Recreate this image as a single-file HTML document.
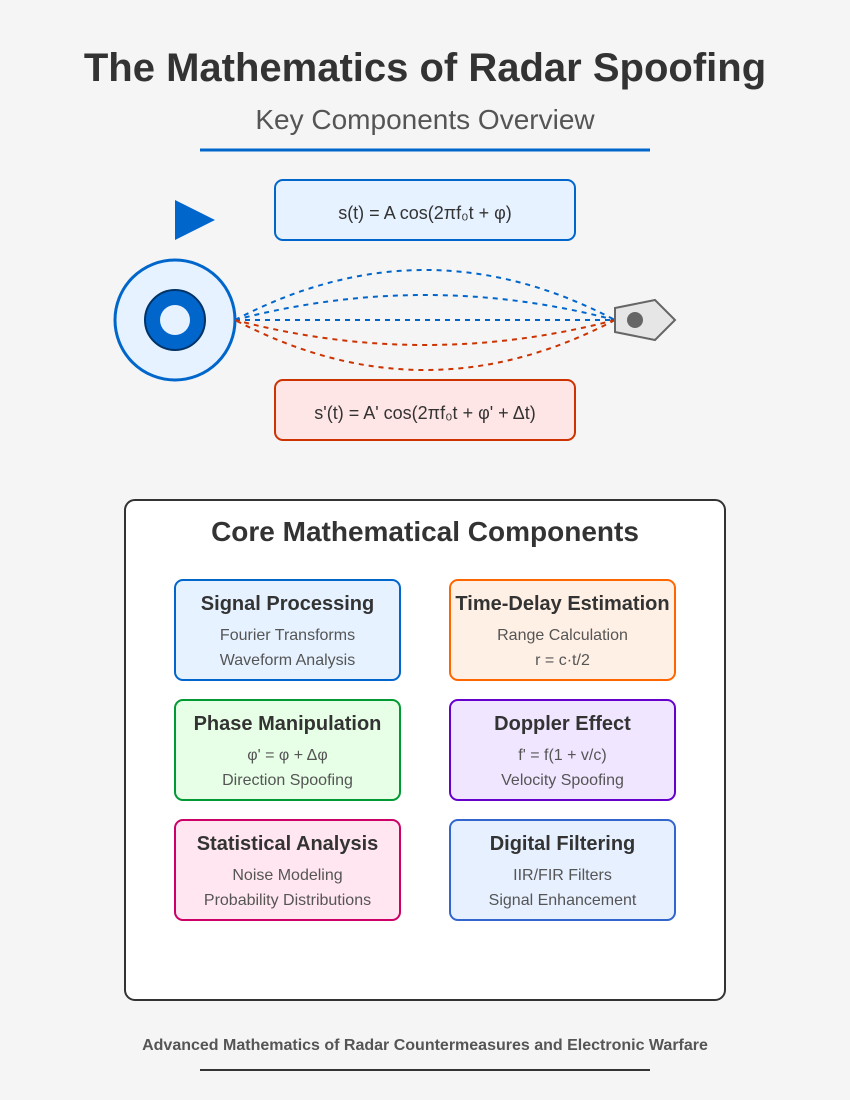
<!DOCTYPE html>
<html><head><meta charset="utf-8"><style>
html,body{margin:0;padding:0;background:#f5f5f5;}
svg{display:block;font-family:"Liberation Sans",Arial,sans-serif;}
</style></head><body>
<svg width="850" height="1100" viewBox="0 0 850 1100">
<rect x="0" y="0" width="850" height="1100" fill="#f5f5f5"/>
<text x="425" y="81" text-anchor="middle" font-size="40" font-weight="bold" fill="#333">The Mathematics of Radar Spoofing</text>
<text x="425" y="129" text-anchor="middle" font-size="28" fill="#555">Key Components Overview</text>
<line x1="200" y1="150" x2="650" y2="150" stroke="#0066cc" stroke-width="3"/>

<polygon points="175,200 175,240 215,220" fill="#0066cc"/>
<rect x="275" y="180" width="300" height="60" rx="8" fill="#e6f2ff" stroke="#0066cc" stroke-width="2"/>
<text x="425" y="219" text-anchor="middle" font-size="18" fill="#333">s(t) = A cos(2πf₀t + φ)</text>

<circle cx="175" cy="320" r="60" fill="#e6f2ff" stroke="#0066cc" stroke-width="3"/>
<circle cx="175" cy="320" r="30" fill="#0066cc" stroke="#003366" stroke-width="2"/>
<circle cx="175" cy="320" r="15" fill="#e6f2ff"/>

<g fill="none" stroke-width="2" stroke-dasharray="5,5">
<path d="M235,320 Q425,220 615,320" stroke="#0066cc"/>
<path d="M235,320 Q425,270 615,320" stroke="#0066cc"/>
<path d="M235,320 L615,320" stroke="#0066cc"/>
<path d="M615,320 Q425,370 235,320" stroke="#cc3300"/>
<path d="M615,320 Q425,420 235,320" stroke="#cc3300"/>
</g>

<polygon points="615,308 655,300 675,320 655,340 615,332" fill="#e6e6e6" stroke="#666" stroke-width="2"/>
<circle cx="635" cy="320" r="8" fill="#666"/>

<rect x="275" y="380" width="300" height="60" rx="8" fill="#ffe6e6" stroke="#cc3300" stroke-width="2"/>
<text x="425" y="419" text-anchor="middle" font-size="18" fill="#333">s'(t) = A' cos(2πf₀t + φ' + Δt)</text>

<rect x="125" y="500" width="600" height="500" rx="10" fill="#fff" stroke="#333" stroke-width="2"/>
<text x="425" y="541" text-anchor="middle" font-size="28" font-weight="bold" fill="#333">Core Mathematical Components</text>

<g>
<rect x="175" y="580" width="225" height="100" rx="8" fill="#e6f2ff" stroke="#0066cc" stroke-width="2"/>
<text x="287.5" y="610" text-anchor="middle" font-size="20" font-weight="bold" fill="#333">Signal Processing</text>
<text x="287.5" y="640" text-anchor="middle" font-size="16" fill="#555">Fourier Transforms</text>
<text x="287.5" y="665" text-anchor="middle" font-size="16" fill="#555">Waveform Analysis</text>
</g>
<g>
<rect x="450" y="580" width="225" height="100" rx="8" fill="#fff0e6" stroke="#ff6600" stroke-width="2"/>
<text x="562.5" y="610" text-anchor="middle" font-size="20" font-weight="bold" fill="#333">Time-Delay Estimation</text>
<text x="562.5" y="640" text-anchor="middle" font-size="16" fill="#555">Range Calculation</text>
<text x="562.5" y="665" text-anchor="middle" font-size="16" fill="#555">r = c·t/2</text>
</g>
<g>
<rect x="175" y="700" width="225" height="100" rx="8" fill="#e6ffe6" stroke="#009933" stroke-width="2"/>
<text x="287.5" y="730" text-anchor="middle" font-size="20" font-weight="bold" fill="#333">Phase Manipulation</text>
<text x="287.5" y="760" text-anchor="middle" font-size="16" fill="#555">φ' = φ + Δφ</text>
<text x="287.5" y="785" text-anchor="middle" font-size="16" fill="#555">Direction Spoofing</text>
</g>
<g>
<rect x="450" y="700" width="225" height="100" rx="8" fill="#f0e6ff" stroke="#6600cc" stroke-width="2"/>
<text x="562.5" y="730" text-anchor="middle" font-size="20" font-weight="bold" fill="#333">Doppler Effect</text>
<text x="562.5" y="760" text-anchor="middle" font-size="16" fill="#555">f' = f(1 + v/c)</text>
<text x="562.5" y="785" text-anchor="middle" font-size="16" fill="#555">Velocity Spoofing</text>
</g>
<g>
<rect x="175" y="820" width="225" height="100" rx="8" fill="#ffe6f0" stroke="#cc0066" stroke-width="2"/>
<text x="287.5" y="850" text-anchor="middle" font-size="20" font-weight="bold" fill="#333">Statistical Analysis</text>
<text x="287.5" y="880" text-anchor="middle" font-size="16" fill="#555">Noise Modeling</text>
<text x="287.5" y="905" text-anchor="middle" font-size="16" fill="#555">Probability Distributions</text>
</g>
<g>
<rect x="450" y="820" width="225" height="100" rx="8" fill="#e6f0ff" stroke="#3366cc" stroke-width="2"/>
<text x="562.5" y="850" text-anchor="middle" font-size="20" font-weight="bold" fill="#333">Digital Filtering</text>
<text x="562.5" y="880" text-anchor="middle" font-size="16" fill="#555">IIR/FIR Filters</text>
<text x="562.5" y="905" text-anchor="middle" font-size="16" fill="#555">Signal Enhancement</text>
</g>

<text x="425" y="1050" text-anchor="middle" font-size="16" font-weight="bold" fill="#555">Advanced Mathematics of Radar Countermeasures and Electronic Warfare</text>
<line x1="200" y1="1070" x2="650" y2="1070" stroke="#333" stroke-width="2"/>
</svg>
</body></html>
